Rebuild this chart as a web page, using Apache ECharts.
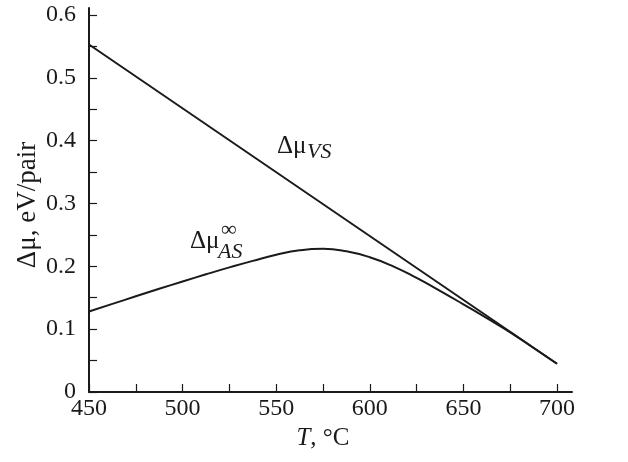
<!DOCTYPE html>
<html>
<head>
<meta charset="utf-8">
<script src="https://cdn.jsdelivr.net/npm/echarts@6/dist/echarts.min.js"></script>
<style>
  html, body { margin: 0; padding: 0; background: #fff; }
  #chart { width: 628px; height: 462px; }
</style>
</head>
<body>
<div id="chart"></div>
<script>
// Chemical potential differences (eV/pair) versus temperature (°C)
const tempVS = [450, 700];
const muVS = [0.553, 0.045];
const tempAS = [450, 462.5, 475, 487.5, 500, 512.5, 525, 537.5, 550, 562.5, 575, 587.5,
                600, 612.5, 625, 637.5, 650, 662.5, 675, 687.5, 700];
const muAS = [0.128, 0.1402, 0.1523, 0.1642, 0.1759, 0.1873, 0.1983, 0.2087, 0.2183, 0.2255, 0.228, 0.224,
              0.2145, 0.200, 0.1815, 0.161, 0.1395, 0.1175, 0.095, 0.070, 0.045];

const xTicks = [450, 475, 500, 525, 550, 575, 600, 625, 650, 675, 700];
const xLabels = [450, 500, 550, 600, 650, 700];
const yTicks = [0, 0.05, 0.1, 0.15, 0.2, 0.25, 0.3, 0.35, 0.4, 0.45, 0.5, 0.55, 0.6];
const yLabels = [0, 0.1, 0.2, 0.3, 0.4, 0.5, 0.6];

const FONT = '"Liberation Serif", "DejaVu Serif", serif';
const INK = '#1a1a1a';

const chart = echarts.init(document.getElementById('chart'), null, { renderer: 'canvas' });

const pairs = (xs, ys) => xs.map((x, i) => [x, ys[i]]);

chart.setOption({
  animation: false,
  backgroundColor: '#fff',
  grid: { left: 89, right: 56, top: 8, bottom: 70, containLabel: false },
  xAxis: {
    type: 'value',
    min: 450,
    max: 708,
    axisLine: { show: true, onZero: false, lineStyle: { color: INK, width: 2 } },
    axisTick: { show: true, inside: true, length: 8, customValues: xTicks, lineStyle: { color: INK, width: 1.2 } },
    axisLabel: {
      customValues: xLabels,
      color: INK, fontFamily: FONT, fontSize: 24, margin: 5,
      formatter: v => String(v)
    },
    splitLine: { show: false }
  },
  yAxis: {
    type: 'value',
    min: 0,
    max: 0.6111,
    axisLine: { show: true, onZero: false, lineStyle: { color: INK, width: 2 } },
    axisTick: { show: true, inside: true, length: 8, customValues: yTicks, lineStyle: { color: INK, width: 1.2 } },
    axisLabel: {
      customValues: yLabels,
      color: INK, fontFamily: FONT, fontSize: 24, margin: 13,
      formatter: v => (v === 0 ? '0' : v.toFixed(1))
    },
    splitLine: { show: false }
  },
  series: [
    {
      name: 'VS',
      type: 'line',
      data: pairs(tempVS, muVS),
      showSymbol: false,
      lineStyle: { color: INK, width: 2 },
      z: 3
    },
    {
      name: 'AS',
      type: 'line',
      data: pairs(tempAS, muAS),
      smooth: 0.5,
      showSymbol: false,
      lineStyle: { color: INK, width: 2 },
      z: 3
    }
  ],
  graphic: [
    // y axis title
    {
      type: 'text', x: 28, y: 205, rotation: Math.PI / 2,
      style: { text: 'Δμ, eV/pair', font: '27px ' + FONT, fill: INK, align: 'center', verticalAlign: 'middle' }
    },
    // x axis title
    {
      type: 'text', x: 323, y: 438,
      style: {
        text: '{i|T}, °C',
        align: 'center', verticalAlign: 'middle', fill: INK,
        font: '25px ' + FONT,
        rich: { i: { fontStyle: 'italic', fontFamily: FONT, fontSize: 25, fill: INK } }
      }
    },
    // Δμ_VS label
    {
      type: 'text', x: 277, y: 146,
      style: { text: 'Δμ', font: '25px ' + FONT, fill: INK, align: 'left', verticalAlign: 'middle' }
    },
    {
      type: 'text', x: 307, y: 152,
      style: { text: 'VS', font: 'italic 22px ' + FONT, fill: INK, align: 'left', verticalAlign: 'middle' }
    },
    // Δμ_AS^∞ label
    {
      type: 'text', x: 190, y: 241,
      style: { text: 'Δμ', font: '25px ' + FONT, fill: INK, align: 'left', verticalAlign: 'middle' }
    },
    {
      type: 'text', x: 221, y: 230,
      style: { text: '∞', font: '22px ' + FONT, fill: INK, align: 'left', verticalAlign: 'middle' }
    },
    {
      type: 'text', x: 218, y: 252,
      style: { text: 'AS', font: 'italic 22px ' + FONT, fill: INK, align: 'left', verticalAlign: 'middle' }
    }
  ]
});
</script>
</body>
</html>
